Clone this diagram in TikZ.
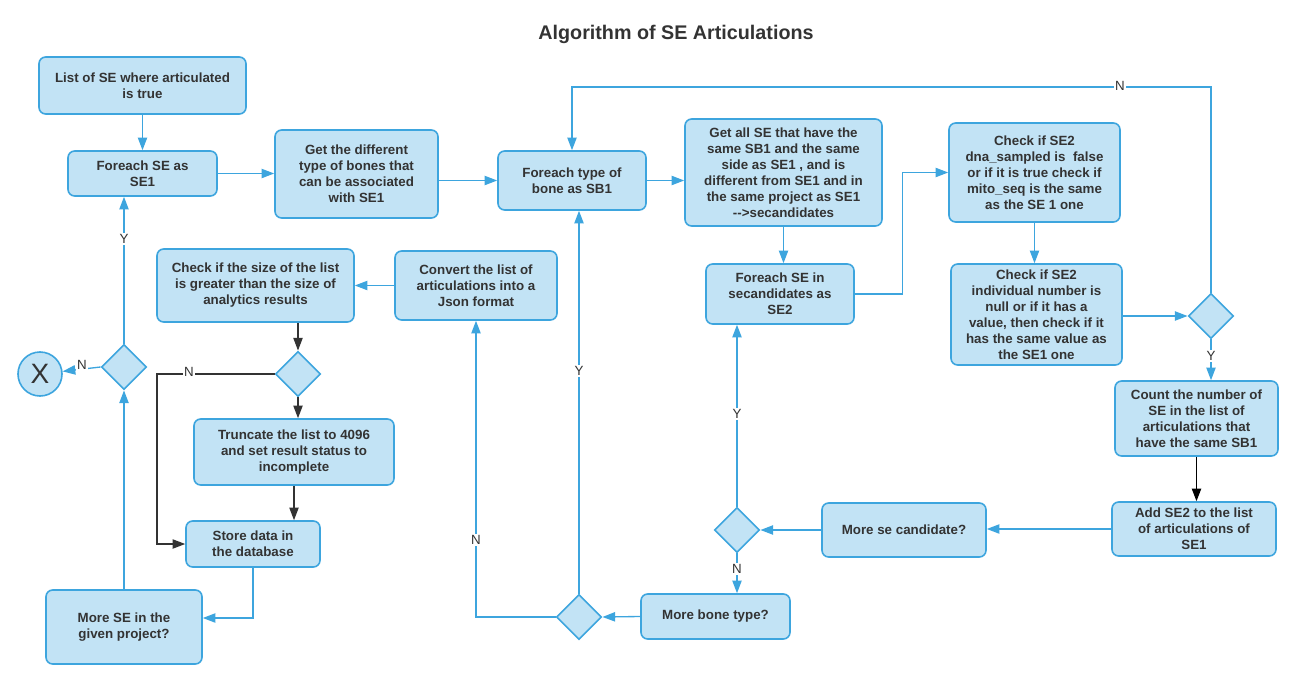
\documentclass[tikz,border=0pt]{standalone}
\usepackage{fontspec}
\setmainfont{Liberation Sans}
\usetikzlibrary{shapes.geometric,arrows.meta}
\definecolor{bfill}{HTML}{C2E3F5}
\definecolor{bline}{HTML}{3DA5DE}
\definecolor{tdark}{HTML}{333333}
\tikzset{
 box/.style={draw=bline, fill=bfill, line width=1.2pt, rounded corners=5pt, align=center,
   font=\bfseries\fontsize{10}{12}\selectfont, text=tdark, inner sep=2pt},
 bx/.style 2 args={box, minimum width=#1*0.75pt, minimum height=#2*0.75pt},
 dec/.style={diamond, draw=bline, fill=bfill, line width=1.2pt, minimum width=34pt,
   minimum height=34pt, inner sep=0pt},
 flow/.style={draw=bline, line width=1pt, -{Triangle[length=9.5pt,width=7pt]}},
 dflow/.style={draw=tdark, line width=0.9pt, -{Triangle[length=9.5pt,width=7pt]}},
 bflow/.style={draw=black, line width=1.1pt, -{Triangle[length=9.5pt,width=7pt]}},
 lbl/.style={fill=white, font=\fontsize{10}{12}\selectfont, text=tdark, inner sep=1pt},
}
\begin{document}
\begin{tikzpicture}[x=0.75pt,y=-0.75pt]
\path[use as bounding box] (0,0) rectangle (1293,678);

\node[font=\bfseries\fontsize{14.8}{18}\selectfont, text=tdark] (title) at (676,34) {Algorithm of SE Articulations};

% boxes
\node[bx={207}{57}] (list) at (142.5,85.5) {List of SE where articulated\\is true};
\node[bx={149}{45}] (fe1) at (142.5,173.5) {Foreach SE as\\SE1};
\node[bx={163}{88}] (getb) at (356.5,174) {Get the different\\type of bones that\\can be associated\\with SE1};
\node[bx={148}{59}] (feb) at (572,180.5) {Foreach type of\\bone as SB1};
\node[bx={197}{107}] (geta) at (783.5,172.5) {Get all SE that have the\\same SB1 and the same\\side as SE1 , and is\\different from SE1 and in\\the same project as SE1\\-{}-{}>secandidates};
\node[bx={148}{60}] (fe2) at (780,294) {Foreach SE in\\secandidates as\\SE2};
\node[bx={171}{99}] (cdna) at (1034.5,172.5) {Check if SE2\\dna\_sampled is\ \ false\\or if it is true check if\\mito\_seq is the same\\as the SE 1 one};
\node[bx={171}{101}] (cind) at (1036.5,314.5) {Check if SE2\\individual number is\\null or if it has a\\value, then check if it\\has the same value as\\the SE1 one};
\node[dec] (dR) at (1211,316) {};
\node[bx={163}{75}] (cnt) at (1196.5,418.5) {Count the number of\\SE in the list of\\articulations that\\have the same SB1};
\node[bx={164}{54}] (add) at (1194,529) {Add SE2 to the list\\of articulations of\\SE1};
\node[bx={164}{54}] (msc) at (904,530) {More se candidate?};
\node[dec] (dM) at (737,530) {};
\node[bx={149}{45}] (mbt) at (715.5,616.5) {More bone type?};
\node[dec] (dB) at (579,617) {};
\node[bx={162}{69}] (conv) at (476,285.5) {Convert the list of\\articulations into a\\Json format};
\node[bx={197}{73}] (csz) at (255.5,285.5) {Check if the size of the list\\is greater than the size of\\analytics results};
\node[dec] (d2) at (298,374) {};
\node[bx={200}{66}] (trunc) at (294,452) {Truncate the list to 4096\\and set result status to\\incomplete};
\node[bx={134}{46}] (store) at (253,544) {Store data in\\the database};
\node[bx={156}{74}] (mse) at (124,627) {More SE in the\\given project?};
\node[dec] (dL) at (124,367) {};
\node[circle, draw=bline, fill=bfill, line width=1.2pt, minimum size=33pt, inner sep=0pt,
      font=\fontsize{21}{24}\selectfont, text=tdark] (X) at (40,374) {X};

% connectors
\draw[flow] (list.south) -- (list.south |- fe1.north);
\draw[flow] (fe1.east) -- (fe1.east -| getb.west);
\draw[flow] (getb.east |- feb.west) -- (feb.west);
\draw[flow] (feb.east) -- (feb.east -| geta.west);
\draw[flow] (geta.south) -- (geta.south |- fe2.north);
\draw[flow] (fe2.east) -- ++(48,0) |- (cdna.west);
\draw[flow] (cdna.south) -- (cdna.south |- cind.north);
\draw[flow] (cind.east |- dR.west) -- (dR.west);
\coordinate (ntop) at (1211,87);
\draw[flow] (dR.north) -- (ntop) -| (feb.north);
\node[lbl] (nR) at (1120,86) {N};
\draw[flow] (dR.south) -- (dR.south |- cnt.north);
\node[lbl] (yR) at (1211,356) {Y};
\draw[bflow] (cnt.south) -- (cnt.south |- add.north);
\draw[flow] (add.west) -- (add.west -| msc.east);
\draw[flow] (msc.west) -- (dM.east);
\draw[flow] (dM.north) -- (dM.north |- fe2.south);
\node[lbl] (yM) at (737,414) {Y};
\draw[flow] (dM.south) -- (dM.south |- mbt.north);
\node[lbl] (nM) at (737,569) {N};
\draw[flow] (mbt.west) -- (dB.east);
\draw[flow] (dB.north) -- (dB.north |- feb.south);
\node[lbl] (yB) at (579,371) {Y};
\draw[flow] (dB.west) -| (conv.south);
\node[lbl] (nB) at (476,540) {N};
\draw[flow] (conv.west) -- (conv.west -| csz.east);
\draw[dflow] (csz.south -| d2.north) -- (d2.north);
\draw[dflow] (d2.south) -- (d2.south |- trunc.north);
\coordinate (nleft) at (157,374);
\draw[dflow] (d2.west) -- (nleft) |- (store.west);
\node[lbl] (n2) at (189,372) {N};
\draw[dflow] (trunc.south) -- (trunc.south |- store.north);
\draw[flow] (store.south) |- ([yshift=6.75pt]mse.east);
\draw[flow] (mse.north) -- (dL.south);
\draw[flow] (dL.north) -- (dL.north |- fe1.south);
\node[lbl] (yL) at (124,239) {Y};
\draw[flow] (dL.west) -- (X);
\node[lbl] (nL) at (82,365) {N};
\end{tikzpicture}
\end{document}
